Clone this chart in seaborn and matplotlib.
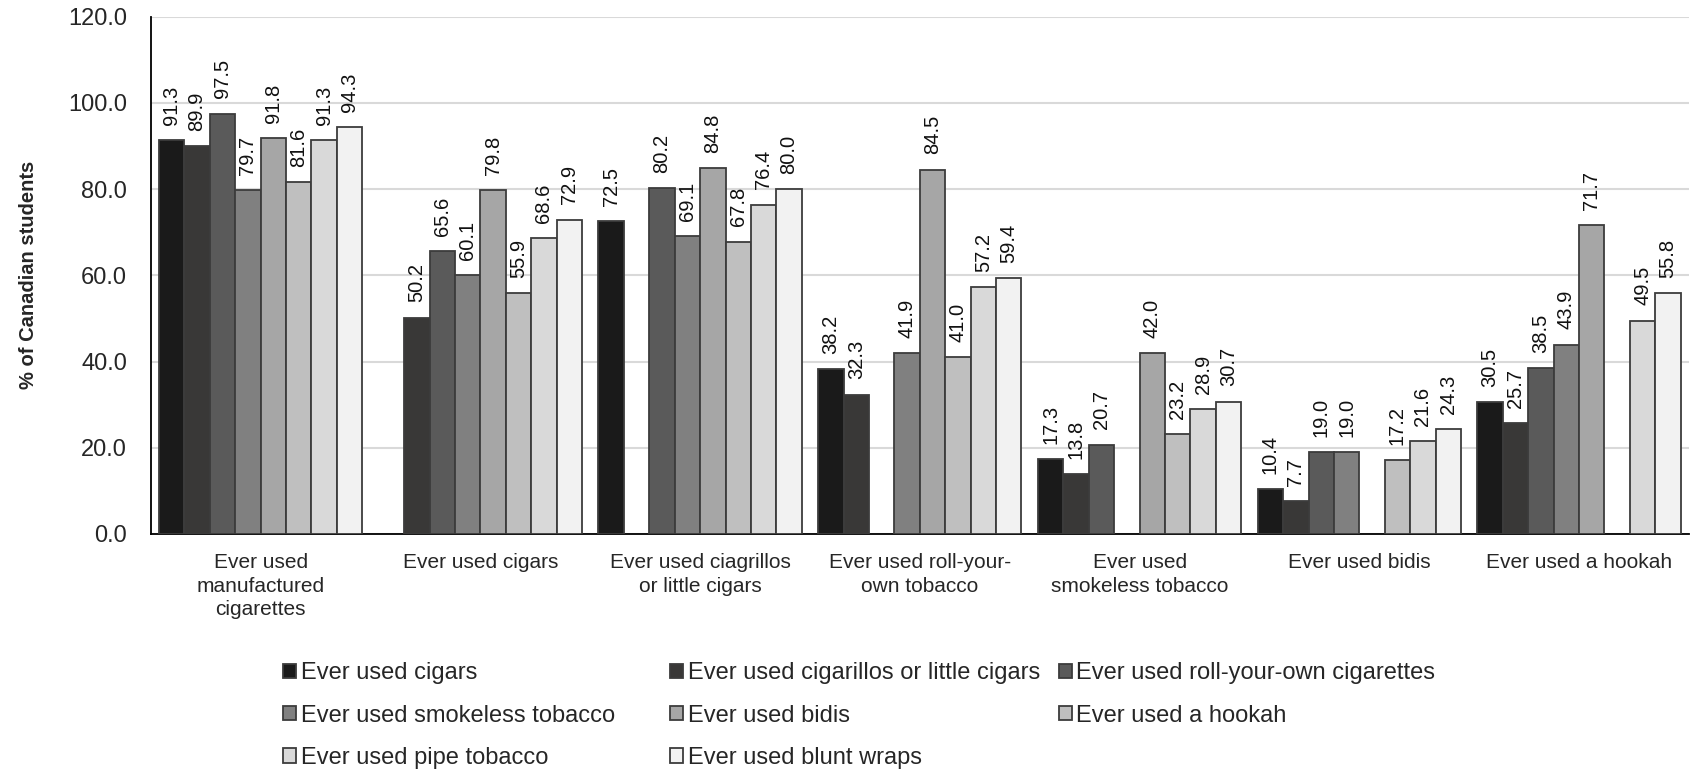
import numpy as np
import pandas as pd
import matplotlib
matplotlib.use("Agg")
import matplotlib.pyplot as plt
import seaborn as sns

categories = [
    "Ever used\nmanufactured\ncigarettes",
    "Ever used cigars",
    "Ever used ciagrillos\nor little cigars",
    "Ever used roll-your-\nown tobacco",
    "Ever used\nsmokeless tobacco",
    "Ever used bidis",
    "Ever used a hookah",
]

series = [
    "Ever used cigars",
    "Ever used cigarillos or little cigars",
    "Ever used roll-your-own cigarettes",
    "Ever used smokeless tobacco",
    "Ever used bidis",
    "Ever used a hookah",
    "Ever used pipe tobacco",
    "Ever used blunt wraps",
]

# one list per series, one value per category (None = not asked)
cigars        = [91.3, None, 72.5, 38.2, 17.3, 10.4, 30.5]
cigarillos    = [89.9, 50.2, None, 32.3, 13.8, 7.7, 25.7]
roll_your_own = [97.5, 65.6, 80.2, None, 20.7, 19.0, 38.5]
smokeless     = [79.7, 60.1, 69.1, 41.9, None, 19.0, 43.9]
bidis         = [91.8, 79.8, 84.8, 84.5, 42.0, None, 71.7]
hookah        = [81.6, 55.9, 67.8, 41.0, 23.2, 17.2, None]
pipe          = [91.3, 68.6, 76.4, 57.2, 28.9, 21.6, 49.5]
blunt         = [94.3, 72.9, 80.0, 59.4, 30.7, 24.3, 55.8]

values = [cigars, cigarillos, roll_your_own, smokeless, bidis, hookah, pipe, blunt]

colors = ["#1a1a1a", "#3a3836", "#5a5a5a", "#808080",
          "#a6a6a6", "#bfbfbf", "#d9d9d9", "#f2f2f2"]

rows = []
for s, vals in zip(series, values):
    for c, v in zip(categories, vals):
        if v is not None:
            rows.append({"category": c, "series": s, "value": v})
df = pd.DataFrame(rows)

sns.set_theme(style="white")
plt.rcParams["font.family"] = ["Liberation Sans", "DejaVu Sans"]

fig = plt.figure(figsize=(16.94, 7.7), dpi=100)
ax = fig.add_axes([0.089, 0.3065, 0.908, 0.672])

sns.barplot(data=df, x="category", y="value", hue="series",
            order=categories, hue_order=series, palette=colors,
            width=0.925, edgecolor="#3c3c3c", linewidth=1.3,
            errorbar=None, ax=ax, zorder=3)

for cont in ax.containers:
    ax.bar_label(cont, fmt="%.1f", rotation=90, padding=11,
                 fontsize=14.5, color="#111111")

ax.set_ylim(0, 120)
ax.set_yticks(np.arange(0, 121, 20))
ax.set_yticklabels([f"{t:.1f}" for t in np.arange(0, 121, 20)], fontsize=17)
ax.yaxis.grid(True, color="#d9d9d9", linewidth=1.5, zorder=0)
ax.set_axisbelow(True)
ax.set_xlim(-0.5, len(categories) - 0.5)
ax.tick_params(axis="x", labelsize=15, length=0, pad=14)
ax.tick_params(axis="y", length=0, pad=17)
for lbl in ax.get_xticklabels():
    lbl.set_linespacing(1.28)
# small separators between category groups
ax.set_xticks(np.arange(-0.5, len(categories), 1.0), minor=True)
ax.tick_params(axis="x", which="minor", length=6, width=1.2,
               color="#000000", direction="out")
ax.set_xlabel("")
ax.set_ylabel("% of Canadian students", fontsize=14.5, fontweight="bold", labelpad=22)

for side in ["top", "right"]:
    ax.spines[side].set_visible(False)
for side in ["left", "bottom"]:
    ax.spines[side].set_color("#000000")
    ax.spines[side].set_linewidth(1.3)

handles, labels = ax.get_legend_handles_labels()
ax.get_legend().remove()
# three fixed-width legend columns, entries read row by row
col_x = [0.167, 0.3955, 0.625]
for j, x in enumerate(col_x):
    idx = list(range(j, len(series), 3))
    fig.legend([handles[i] for i in idx], [labels[i] for i in idx],
               ncol=1, loc="upper left", bbox_to_anchor=(x, 0.14),
               frameon=False, fontsize=17, handlelength=0.55, handleheight=0.55,
               handletextpad=0.2, labelspacing=0.86, borderaxespad=0,
               borderpad=0)

fig.savefig("out.png", dpi=100)
